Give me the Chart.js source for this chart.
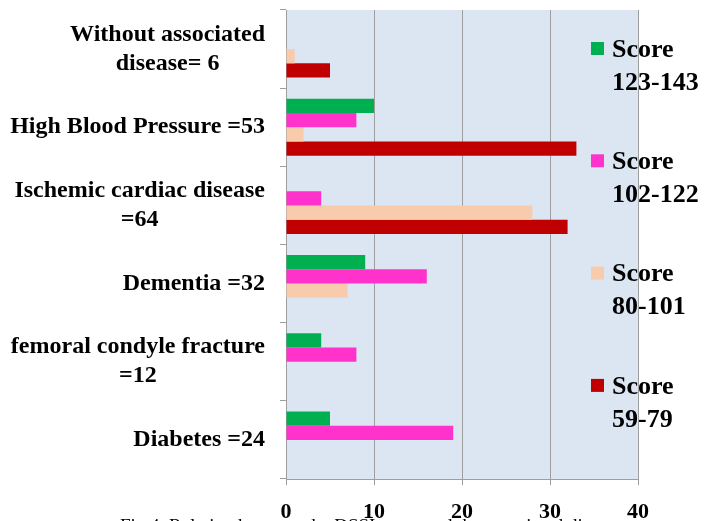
<!DOCTYPE html>
<html>
<head>
<meta charset="utf-8">
<script src="https://cdn.jsdelivr.net/npm/chart.js@4.4.1/dist/chart.umd.min.js"></script>
<style>
  html, body { margin: 0; padding: 0; background: #ffffff; }
  #wrap { width: 708px; height: 521px; position: relative; }
</style>
</head>
<body>
<div id="wrap"><canvas id="chart" width="708" height="521"></canvas></div>
<script>
// Associated diseases (with patient count) and DSSI score groups
const categories = [
  ['Without associated', 'disease= 6'],
  ['High Blood Pressure =53'],
  ['Ischemic cardiac disease', '=64'],
  ['Dementia =32'],
  ['femoral condyle fracture', '=12'],
  ['Diabetes =24']
];
const seriesNames = ['Score 123-143', 'Score 102-122', 'Score 80-101', 'Score 59-79'];
const score123to143 = [0, 10, 0, 9, 4, 5];
const score102to122 = [0, 8, 4, 16, 8, 19];
const score80to101  = [1, 2, 28, 7, 0, 0];
const score59to79   = [5, 33, 32, 0, 0, 0];
const xTicks = [0, 10, 20, 30, 40];
const caption = 'Fig 4. Relation between the DSSI score and the associated diseases';

const seriesColors = ['#00B050', '#FF33CC', '#F8CBAD', '#C00000'];
const seriesValues = [score123to143, score102to122, score80to101, score59to79];
const SERIF = '"Liberation Serif", "Times New Roman", serif';
const GRID = '#9E9E9E';

// Light blue plot area fill
const plotBackground = {
  id: 'plotBackground',
  beforeDraw(chart) {
    const { ctx, chartArea: a } = chart;
    ctx.save();
    ctx.fillStyle = '#DCE6F2';
    ctx.fillRect(a.left, a.top, a.right - a.left, a.bottom - a.top);
    ctx.restore();
  }
};

// Category labels: each block right-aligned to the axis, lines centred inside the block
const categoryLabels = {
  id: 'categoryLabels',
  afterDraw(chart) {
    const { ctx } = chart;
    const yScale = chart.scales.y;
    const rightEdge = yScale.right - 21;
    const lineH = 29;
    ctx.save();
    ctx.font = 'bold 24px ' + SERIF;
    ctx.fillStyle = '#000000';
    ctx.textAlign = 'center';
    ctx.textBaseline = 'middle';
    categories.forEach((lines, i) => {
      const yc = yScale.getPixelForTick(i);
      const w = Math.max(...lines.map(l => ctx.measureText(l).width));
      const xc = rightEdge - w / 2;
      const y0 = yc - (lines.length - 1) * lineH / 2;
      lines.forEach((l, k) => ctx.fillText(l, xc, y0 + k * lineH));
    });
    ctx.restore();
  }
};

// Legend on the right, each entry split over two lines, drawn over the plot edge
const sideLegend = {
  id: 'sideLegend',
  afterDraw(chart) {
    const { ctx } = chart;
    const x0 = 591, top = 50, step = 112.3, lineH = 33;
    ctx.save();
    ctx.font = 'bold 26px ' + SERIF;
    ctx.textAlign = 'left';
    ctx.textBaseline = 'middle';
    chart.data.datasets.forEach((ds, i) => {
      const y = top + i * step;
      ctx.fillStyle = ds.backgroundColor;
      ctx.fillRect(x0, y - 8, 13, 13);
      ctx.fillStyle = '#000000';
      const parts = ds.label.split(' ');
      ctx.fillText(parts[0], x0 + 21, y);
      ctx.fillText(parts.slice(1).join(' '), x0 + 21, y + lineH);
    });
    ctx.restore();
  }
};

// Figure caption running off the bottom edge
const figCaption = {
  id: 'figCaption',
  afterDraw(chart) {
    const { ctx } = chart;
    ctx.save();
    ctx.font = '19px ' + SERIF;
    ctx.fillStyle = '#000000';
    ctx.textAlign = 'left';
    ctx.textBaseline = 'top';
    ctx.fillText(caption, 120, 518);
    ctx.restore();
  }
};

new Chart(document.getElementById('chart'), {
  type: 'bar',
  data: {
    labels: categories.map(l => l.join(' ')),
    datasets: seriesNames.map((name, i) => ({
      label: name,
      data: seriesValues[i],
      backgroundColor: seriesColors[i],
      borderWidth: 0,
      categoryPercentage: 0.73,
      barPercentage: 1.0
    }))
  },
  options: {
    indexAxis: 'y',
    responsive: false,
    animation: false,
    layout: { padding: { top: 10, right: 70, left: 0, bottom: 0 } },
    plugins: {
      legend: { display: false },
      tooltip: { enabled: false }
    },
    scales: {
      x: {
        min: xTicks[0],
        max: xTicks[xTicks.length - 1],
        afterBuildTicks(scale) { scale.ticks = xTicks.map(v => ({ value: v })); },
        afterFit(scale) { scale.height = 42; },
        grid: { color: GRID, lineWidth: 1, tickLength: 6, drawOnChartArea: true },
        border: { color: GRID, width: 1 },
        ticks: {
          color: '#000000',
          padding: 14,
          font: { family: SERIF, size: 22, weight: 'bold' }
        }
      },
      y: {
        type: 'category',
        offset: true,
        afterFit(scale) { scale.width = 286; },
        grid: { color: GRID, lineWidth: 1, tickLength: 6, drawOnChartArea: false, offset: true },
        border: { color: GRID, width: 1 },
        ticks: { display: false }
      }
    }
  },
  plugins: [plotBackground, categoryLabels, sideLegend, figCaption]
});
</script>
</body>
</html>
